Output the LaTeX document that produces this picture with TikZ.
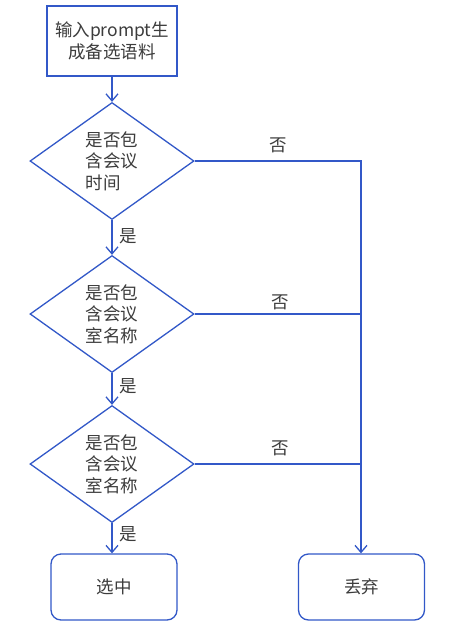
\documentclass[tikz,border=0pt]{standalone}
\usepackage{fontspec}
\newfontfamily\cjk{Noto Sans CJK SC}
\usetikzlibrary{shapes.geometric,arrows.meta}
\definecolor{lineblue}{RGB}{50,88,200}
\definecolor{txtgray}{RGB}{60,60,60}
\tikzset{
  base/.style={draw=lineblue, line width=1.3pt, text=txtgray, font=\cjk\fontsize{17.5}{21.5}\selectfont},
  procbox/.style={base, rectangle, minimum width=130pt, minimum height=70pt, align=center, inner sep=0pt},
  endbox/.style={base, rectangle, rounded corners=10pt, minimum width=126pt, minimum height=66pt, inner sep=0pt},
  decision/.style={base, diamond, minimum width=164pt, minimum height=117pt, aspect=1.4, inner sep=0pt, align=left},
  conn/.style={draw=lineblue, line width=1.3pt},
  arr/.style={conn, -{Straight Barb[length=7pt,width=12pt,line width=1.3pt]}},
  lbl/.style={text=txtgray, font=\cjk\fontsize{17.5}{21}\selectfont, inner sep=0pt}
}
\begin{document}
\begin{tikzpicture}[x=1pt,y=-1pt]
\useasboundingbox[fill=white] (0,0) rectangle (455,637);
\node[procbox] (start) at (112,41) {输入prompt生\\成备选语料};
\node[decision] (d1) at (112,161) {是否包\\含会议\\时间};
\node[decision] (d2) at (112,314) {是否包\\含会议\\室名称};
\node[decision] (d3) at (112,464) {是否包\\含会议\\室名称};
\node[endbox] (sel) at (114,587) {选中};
\node[endbox] (dis) at (361.5,587) {丢弃};
\coordinate (c1) at (361,161);
\coordinate (c2) at (361,314);
\coordinate (c3) at (361,464);
\draw[arr] (start) -- (d1.north);
\draw[arr] (d1.south) -- (d2.north);
\draw[arr] (d2.south) -- (d3.north);
\draw[arr] (d3.south) -- (d3.south |- sel.north);
\draw[arr] (d1.east) -- (c1) -- (dis.north -| c1);
\draw[conn] (d2.east) -- (c2);
\draw[conn] (d3.east) -- (c3);
\node[lbl] (y1) at (128,236) {是};
\node[lbl] (y2) at (128,386) {是};
\node[lbl] (y3) at (128,534) {是};
\node[lbl] (n1) at (278,145) {否};
\node[lbl] (n2) at (280,302) {否};
\node[lbl] (n3) at (280,448) {否};
\end{tikzpicture}
\end{document}
